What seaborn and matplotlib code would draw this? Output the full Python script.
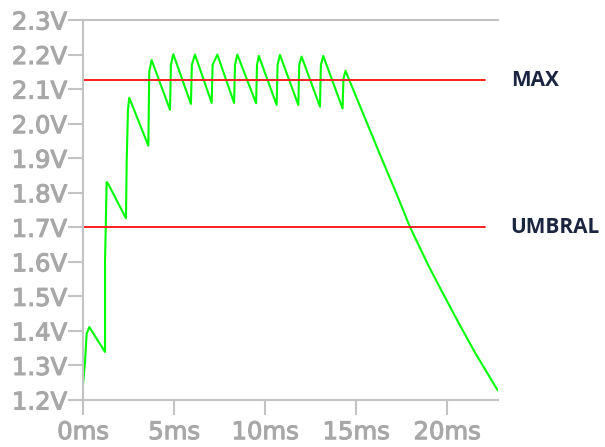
import matplotlib
matplotlib.use("Agg")
import matplotlib.pyplot as plt
import matplotlib.patheffects as pe
import seaborn as sns
import pandas as pd

# waveform (ms, V)
time_ms = [0.00, 0.11, 0.20, 0.35, 1.21, 1.21, 1.30, 1.38,
           2.36, 2.40, 2.47, 2.54, 3.59, 3.64, 3.77,
           4.78, 4.83, 4.96, 5.93, 5.98, 6.15, 7.07, 7.12, 7.38,
           8.30, 8.35, 8.48, 9.51, 9.56, 9.66, 10.64, 10.69, 10.82,
           11.83, 11.88, 12.01, 13.02, 13.07, 13.20, 14.26, 14.31, 14.42,
           15.50, 16.32, 17.24, 17.97, 18.97, 19.71, 20.62, 21.54, 22.78]
volts = [1.245, 1.31, 1.392, 1.411, 1.339, 1.60, 1.831, 1.826,
         1.726, 1.89, 2.04, 2.075, 1.936, 2.15, 2.184,
         2.040, 2.17, 2.201, 2.057, 2.17, 2.200, 2.060, 2.17, 2.200,
         2.060, 2.17, 2.200, 2.059, 2.17, 2.196, 2.054, 2.17, 2.199,
         2.054, 2.17, 2.194, 2.049, 2.17, 2.196, 2.044, 2.13, 2.153,
         2.015, 1.910, 1.795, 1.700, 1.590, 1.515, 1.425, 1.337, 1.228]

ref_levels = [2.125, 1.70]
ref_names = ["MAX", "UMBRAL"]
ref_end_ms = 22.1

x_ticks = [0, 5, 10, 15, 20]
x_ticklabels = ["0ms", "5ms", "10ms", "15ms", "20ms"]
y_ticks = [1.2, 1.3, 1.4, 1.5, 1.6, 1.7, 1.8, 1.9, 2.0, 2.1, 2.2, 2.3]
y_ticklabels = ["1.2V", "1.3V", "1.4V", "1.5V", "1.6V", "1.7V",
                "1.8V", "1.9V", "2.0V", "2.1V", "2.2V", "2.3V"]

sns.set_theme(style="white")
plt.rcParams['font.family'] = ['DejaVu Sans']

fig = plt.figure(figsize=(6.05, 4.47), dpi=100)
ax = fig.add_axes([83 / 605, 47 / 447, 415 / 605, 380 / 447])

df = pd.DataFrame({"t": time_ms, "v": volts})
sns.lineplot(data=df, x="t", y="v", sort=False, estimator=None,
             color="#00ff00", lw=1.5, ax=ax)

# reference levels
for lvl, name in zip(ref_levels, ref_names):
    ax.plot([0, ref_end_ms], [lvl, lvl], color="#ff2020", lw=1.4)
    ax.text(23.5, lvl, name, fontfamily="Open Sans", fontweight="bold",
            fontsize=15, color="#1b2540", va="center", ha="left", clip_on=False)

ax.set_xlim(0, 22.8)
ax.set_ylim(1.2, 2.3)
ax.set_xticks(x_ticks)
ax.set_xticklabels(x_ticklabels)
ax.set_yticks(y_ticks)
ax.set_yticklabels(y_ticklabels)
ax.set_xlabel("")
ax.set_ylabel("")

ax.spines['right'].set_visible(False)
for s in ['top', 'left', 'bottom']:
    ax.spines[s].set_color('#c3c3c3')
    ax.spines[s].set_linewidth(1.5)

ax.tick_params(axis='both', which='both', bottom=True, left=True, direction='out',
               length=10.5, width=1.5, color='#c3c3c3',
               labelsize=17.5, labelcolor='#a8a8a8')
ax.tick_params(axis='y', pad=1)
ax.tick_params(axis='x', pad=4)

# the scope font is a heavy bitmap face, thicken the labels a bit
for lab in ax.get_xticklabels() + ax.get_yticklabels():
    lab.set_path_effects([pe.withStroke(linewidth=0.8, foreground='#a8a8a8')])

fig.savefig("out.png", dpi=100, facecolor="white")
